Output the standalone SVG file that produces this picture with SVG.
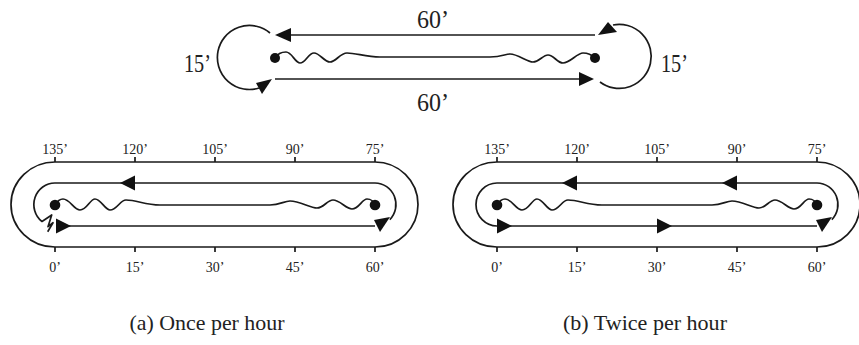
<svg xmlns="http://www.w3.org/2000/svg" width="859" height="345" viewBox="0 0 859 345">
<style>
.ln{fill:none;stroke:#1a1a1a;stroke-width:1.7;stroke-linejoin:round}
.ah{fill:#111;stroke:none}
.dot{fill:#111}
.t{font-family:"Liberation Serif","Times New Roman",serif;fill:#222}
.big{font-size:26px}
.sm{font-size:14px;text-anchor:middle}
.cap{font-size:21px;text-anchor:middle}
</style>
<defs>
<path id="waveLow" class="ln" d="M55,205 C58,200 60,199 63,199 C70,199 74,210 80,210 C87,210 90,199 95,199 C101,199 105,210 110,210 C117,210 120,200 126,200 C137,200 145,205 160,205 L270,205 C280,205 284,201 290,201 C300,201 310,208 317,208 C324,208 327,200 333,200 C340,200 346,209 352,209 C359,209 362,199 367,199 C371,199 374,202 375,205"/>
<path id="outer" class="ln" d="M55,162 L375,162 A43,42.5 0 0 1 375,247 L55,247 A44,42.5 0 0 1 55,162 Z"/>
<path id="rightArc" class="ln" d="M375,183 A21,21.5 0 0 1 389.8,219.7"/>
<polygon id="rightHead" class="ah" points="374,220 390,217 380,232"/>
<g id="ticks">
<path class="ln" d="M55,157V162M135,157V162M215,157V162M295,157V162M375,157V162M55,247V252M135,247V252M215,247V252M295,247V252M375,247V252"/>
<text class="t sm" x="55" y="154">135’</text>
<text class="t sm" x="135" y="154">120’</text>
<text class="t sm" x="215" y="154">105’</text>
<text class="t sm" x="295" y="154">90’</text>
<text class="t sm" x="375" y="154">75’</text>
<text class="t sm" x="55" y="272">0’</text>
<text class="t sm" x="135" y="272">15’</text>
<text class="t sm" x="215" y="272">30’</text>
<text class="t sm" x="295" y="272">45’</text>
<text class="t sm" x="375" y="272">60’</text>
</g>
</defs>

<g id="top-cycle">
<g id="connectors-top">
<path class="ln" d="M595,35 L289,35"/>
<polygon class="ah" points="275,35 291,28 291,42"/>
<path class="ln" d="M275,79 L581,79"/>
<polygon class="ah" points="594,79 579,72 579,86"/>
<path class="ln" d="M270,33 A32,32 0 1 0 259,88"/>
<polygon class="ah" points="272,79 256,83 262,94"/>
<path class="ln" d="M600,82 A32,32 0 1 0 613,25"/>
<polygon class="ah" points="598,35 608,22 617,32"/>
<path class="ln" d="M275,58 C278,53 282,52 286,52 C292,52 295,63 300,63 C306,63 308,53 314,53 C320,53 324,62 330,62 C336,62 340,53 347,53 C356,53 366,57 380,57 L490,57 C502,57 505,54 510,54 C518,54 527,62 533,62 C539,62 543,55 548,55 C554,55 557,63 563,63 C570,63 577,53 583,53 C589,53 592,55 595,58"/>
</g>
<g id="node-left-top"><circle class="dot" cx="275" cy="58" r="5"/></g>
<g id="node-right-top"><circle class="dot" cx="595" cy="58" r="5"/></g>
<text class="t big" x="417" y="28" textLength="32" lengthAdjust="spacingAndGlyphs">60’</text>
<text class="t big" x="417" y="111" textLength="32" lengthAdjust="spacingAndGlyphs">60’</text>
<text class="t big" x="184" y="72" textLength="27" lengthAdjust="spacingAndGlyphs">15’</text>
<text class="t big" x="661" y="72" textLength="27" lengthAdjust="spacingAndGlyphs">15’</text>
</g>

<g id="panel-a">
<use href="#outer"/>
<use href="#ticks"/>
<g id="connectors-a">
<path class="ln" d="M375,183 L55,183 A21,21.5 0 0 0 42,221.5 L51.7,215 L48,226.7 L53,222.7 L47.7,231.7"/>
<use href="#rightArc"/>
<use href="#rightHead"/>
<path class="ln" d="M56,226 L375,226"/>
<polygon class="ah" points="120,183 135,175.5 135,190.5"/>
<polygon class="ah" points="56,218.5 71,226 56,233.5"/>
<use href="#waveLow"/>
</g>
<g id="node-a-left"><circle class="dot" cx="55" cy="205" r="5.3"/></g>
<g id="node-a-right"><circle class="dot" cx="375" cy="205" r="5.3"/></g>
</g>

<g id="panel-b" transform="translate(442,0)">
<use href="#outer"/>
<use href="#ticks"/>
<g id="connectors-b">
<path class="ln" d="M375,183 L55,183 A21,21.5 0 0 0 55,226 L375,226"/>
<use href="#rightArc"/>
<use href="#rightHead"/>
<polygon class="ah" points="120,183 135,175.5 135,190.5"/>
<polygon class="ah" points="280,183 295,175.5 295,190.5"/>
<polygon class="ah" points="55,218.5 70,226 55,233.5"/>
<polygon class="ah" points="215,218.5 230,226 215,233.5"/>
<use href="#waveLow"/>
</g>
<g id="node-b-left"><circle class="dot" cx="55" cy="205" r="5.3"/></g>
<g id="node-b-right"><circle class="dot" cx="375" cy="205" r="5.3"/></g>
</g>

<g id="captions">
<text class="t cap" x="207" y="330" textLength="155" lengthAdjust="spacingAndGlyphs">(a) Once per hour</text>
<text class="t cap" x="645" y="330" textLength="164" lengthAdjust="spacingAndGlyphs">(b) Twice per hour</text>
</g>
</svg>
